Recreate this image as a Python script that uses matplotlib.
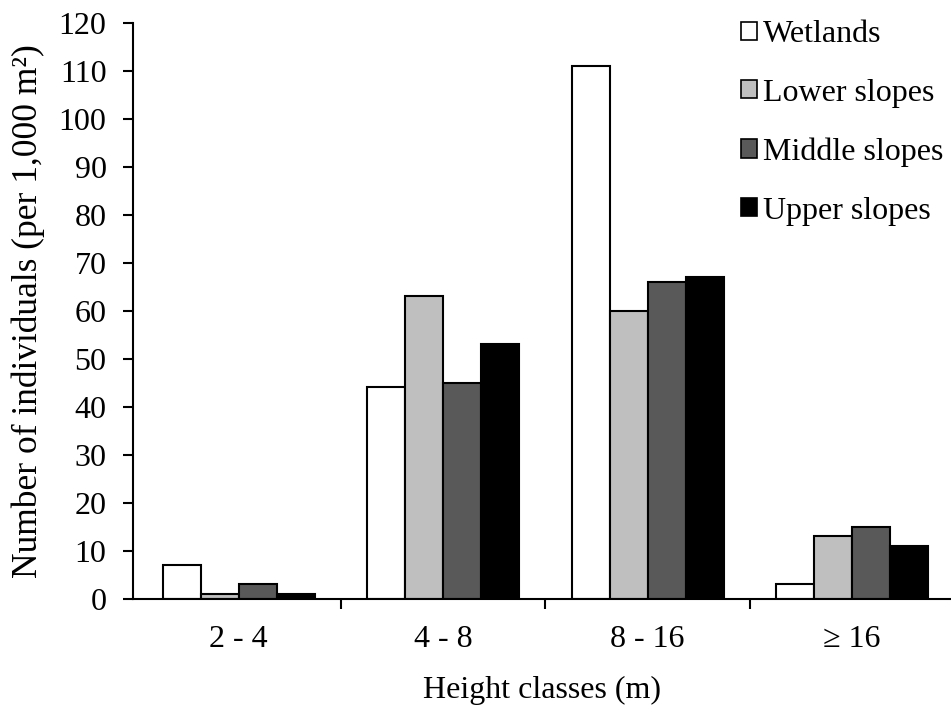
import matplotlib
matplotlib.use("Agg")
import matplotlib.pyplot as plt
import numpy as np

categories = ["2 - 4", "4 - 8", "8 - 16", "\u2265 16"]
series_names = ["Wetlands", "Lower slopes", "Middle slopes", "Upper slopes"]
wetlands = [7, 44, 111, 3]
lower = [1, 63, 60, 13]
middle = [3, 45, 66, 15]
upper = [1, 53, 67, 11]
colors = ["#ffffff", "#bfbfbf", "#595959", "#000000"]

plt.rcParams['font.family'] = ['Liberation Serif', 'DejaVu Serif']

W, H = 951, 707
fig = plt.figure(figsize=(W / 100, H / 100), dpi=100)
left_px, right_px, top_px, bot_px = 133, 951, 23, 598.5
ax = fig.add_axes([left_px / W, 1 - bot_px / H, (right_px - left_px) / W, (bot_px - top_px) / H])

x = np.arange(len(categories))
w = 0.186
data = [wetlands, lower, middle, upper]
for i, (vals, name, c) in enumerate(zip(data, series_names, colors)):
    ax.bar(x + (i - 1.5) * w, vals, width=w, color=c, edgecolor='black',
           linewidth=1.5, label=name)

ax.set_xlim(-0.517, 3.483)
ax.set_ylim(0, 120)
ax.set_yticks(np.arange(0, 121, 10))
ax.set_xticks(x)
ax.set_xticklabels(categories)
ax.set_xticks([0.5, 1.5, 2.5], minor=True)
ax.tick_params(axis='x', which='major', length=0, labelsize=23, pad=19)
ax.tick_params(axis='x', which='minor', length=7, width=1.5, direction='out')
ax.tick_params(axis='y', length=7, width=1.5, direction='out', labelsize=23, pad=12)
for s in ['top', 'right']:
    ax.spines[s].set_visible(False)
for s in ['left', 'bottom']:
    ax.spines[s].set_linewidth(1.5)

ax.set_xlabel("Height classes (m)", fontsize=23, labelpad=16)
ax.set_ylabel("Number of individuals (per 1,000 m\u00b2)", fontsize=25.5, labelpad=10)

leg = fig.legend(loc='upper left', bbox_to_anchor=(741 / W, 1 - 20 / H),
                 bbox_transform=fig.transFigure, frameon=False,
                 fontsize=23, handlelength=0.5, handleheight=0.5,
                 handletextpad=0.2, labelspacing=0.93, borderpad=0, borderaxespad=0)
for h in leg.legend_handles:
    h.set_linewidth(1.2)

fig.savefig("out.png", dpi=100)
